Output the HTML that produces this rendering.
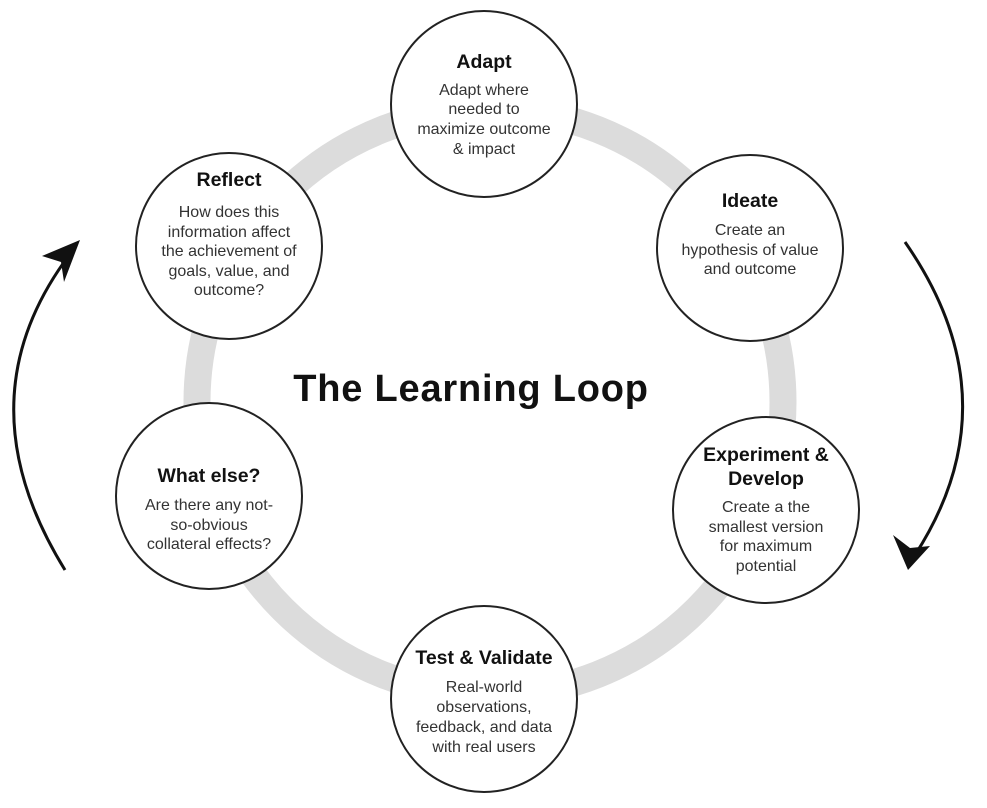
<!DOCTYPE html>
<html><head><meta charset="utf-8"><style>
html,body{margin:0;padding:0;background:#fff;}
svg{display:block;}
.h{font-family:"Liberation Sans",sans-serif;font-weight:bold;font-size:19.5px;fill:#111;text-anchor:middle;}
.b{font-family:"Liberation Sans",sans-serif;font-size:16px;fill:#333;text-anchor:middle;}
.t{font-family:"Liberation Sans",sans-serif;font-weight:bold;font-size:38px;fill:#111;text-anchor:middle;letter-spacing:0.8px;}
</style></head><body>
<svg width="987" height="808" viewBox="0 0 987 808" xmlns="http://www.w3.org/2000/svg">
<circle cx="490" cy="402" r="293" fill="none" stroke="#dcdcdc" stroke-width="27"/>
<text class="t" x="471" y="401">The Learning Loop</text>
<!-- arrows -->
<path d="M65,570 Q-40,400 70,254" fill="none" stroke="#111" stroke-width="3"/>
<polygon points="80,240 42,256 61,262 64,282" fill="#111"/>
<path d="M905,242 Q1015,400 915,555" fill="none" stroke="#111" stroke-width="3"/>
<polygon points="908,570 893,535 910,548 930,546" fill="#111"/>
<g fill="#fff" stroke="#222" stroke-width="2">
<circle cx="484" cy="104" r="93"/>
<circle cx="750" cy="248" r="93"/>
<circle cx="766" cy="510" r="93"/>
<circle cx="484" cy="699" r="93"/>
<circle cx="209" cy="496" r="93"/>
<circle cx="229" cy="246" r="93"/>
</g>
<text class="h" x="484" y="68">Adapt</text>
<text class="b" x="484" y="95">Adapt where</text>
<text class="b" x="484" y="114">needed to</text>
<text class="b" x="484" y="134">maximize outcome</text>
<text class="b" x="484" y="154">&amp; impact</text>

<text class="h" x="750" y="207">Ideate</text>
<text class="b" x="750" y="235">Create an</text>
<text class="b" x="750" y="255">hypothesis of value</text>
<text class="b" x="750" y="274">and outcome</text>

<text class="h" x="766" y="461">Experiment &amp;</text>
<text class="h" x="766" y="485">Develop</text>
<text class="b" x="766" y="512">Create a the</text>
<text class="b" x="766" y="532">smallest version</text>
<text class="b" x="766" y="551">for maximum</text>
<text class="b" x="766" y="571">potential</text>

<text class="h" x="484" y="664">Test &amp; Validate</text>
<text class="b" x="484" y="692">Real-world</text>
<text class="b" x="484" y="712">observations,</text>
<text class="b" x="484" y="732">feedback, and data</text>
<text class="b" x="484" y="752">with real users</text>

<text class="h" x="209" y="482">What else?</text>
<text class="b" x="209" y="510">Are there any not-</text>
<text class="b" x="209" y="530">so-obvious</text>
<text class="b" x="209" y="549">collateral effects?</text>

<text class="h" x="229" y="186">Reflect</text>
<text class="b" x="229" y="217">How does this</text>
<text class="b" x="229" y="237">information affect</text>
<text class="b" x="229" y="256">the achievement of</text>
<text class="b" x="229" y="276">goals, value, and</text>
<text class="b" x="229" y="295">outcome?</text>
</svg>
</body></html>
